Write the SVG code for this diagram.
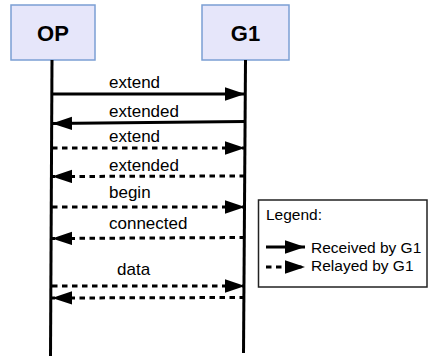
<svg xmlns="http://www.w3.org/2000/svg" width="428" height="356" viewBox="0 0 428 356">
<style>
.actor{fill:#e6e6fa;stroke:#7b9fd4;stroke-width:1.5}
.atext{font-family:"Liberation Sans",Arial,sans-serif;font-weight:bold;font-size:22px;fill:#000;text-anchor:middle}
.life{stroke:#000;stroke-width:3;fill:none}
.msg{stroke:#000;stroke-width:3;fill:none}
.dash{stroke-dasharray:5.5 4.5}
.lbl{font-family:"Liberation Sans",Arial,sans-serif;font-size:17px;fill:#000}
.leg{font-family:"Liberation Sans",Arial,sans-serif;font-size:15.5px;fill:#000}
</style>
<defs>
<marker id="ah" markerUnits="userSpaceOnUse" markerWidth="20" markerHeight="14" refX="18" refY="6" orient="auto" viewBox="0 0 18 12">
<path d="M0,0 L18,6 L0,12 Z" fill="#000"/>
</marker>
</defs>
<g id="op">
<rect class="actor" x="11" y="5" width="84" height="55"/>
<text class="atext" x="53" y="40.5">OP</text>
</g>
<g id="g1">
<rect class="actor" x="202" y="5" width="87" height="55"/>
<text class="atext" x="245.5" y="40.5">G1</text>
</g>
<g id="lifelines">
<line class="life" x1="52" y1="60" x2="50.5" y2="356"/>
<line class="life" x1="245.5" y1="60" x2="243.5" y2="353"/>
</g>
<g id="connectors">
<line class="msg" x1="52" y1="94" x2="245" y2="94" marker-end="url(#ah)"/>
<line class="msg" x1="245" y1="121.5" x2="52" y2="123.5" marker-end="url(#ah)"/>
<line class="msg dash" x1="52" y1="148" x2="245" y2="148" marker-end="url(#ah)"/>
<line class="msg dash" x1="245" y1="176" x2="52" y2="176.5" marker-end="url(#ah)"/>
<line class="msg dash" x1="52" y1="207" x2="245" y2="207" marker-end="url(#ah)"/>
<line class="msg dash" x1="245" y1="237.5" x2="52" y2="238.5" marker-end="url(#ah)"/>
<line class="msg dash" x1="52" y1="286" x2="245" y2="286" marker-end="url(#ah)"/>
<line class="msg dash" x1="245" y1="297.5" x2="52" y2="298" marker-end="url(#ah)"/>
</g>
<g id="labels">
<text class="lbl" x="109" y="88">extend</text>
<text class="lbl" x="109" y="117">extended</text>
<text class="lbl" x="109" y="142">extend</text>
<text class="lbl" x="109" y="171">extended</text>
<text class="lbl" x="109" y="198">begin</text>
<text class="lbl" x="109" y="229">connected</text>
<text class="lbl" x="117" y="275">data</text>
</g>
<g id="legend">
<rect x="258.5" y="200" width="168.5" height="87" fill="#fff" stroke="#222" stroke-width="1.5"/>
<text class="leg" x="266" y="220">Legend:</text>
<line class="msg" x1="266" y1="247" x2="305" y2="247" marker-end="url(#ah)"/>
<text class="leg" x="311" y="253">Received by G1</text>
<line class="msg dash" x1="266" y1="267" x2="305" y2="267" marker-end="url(#ah)"/>
<text class="leg" x="311" y="271">Relayed by G1</text>
</g>
</svg>
